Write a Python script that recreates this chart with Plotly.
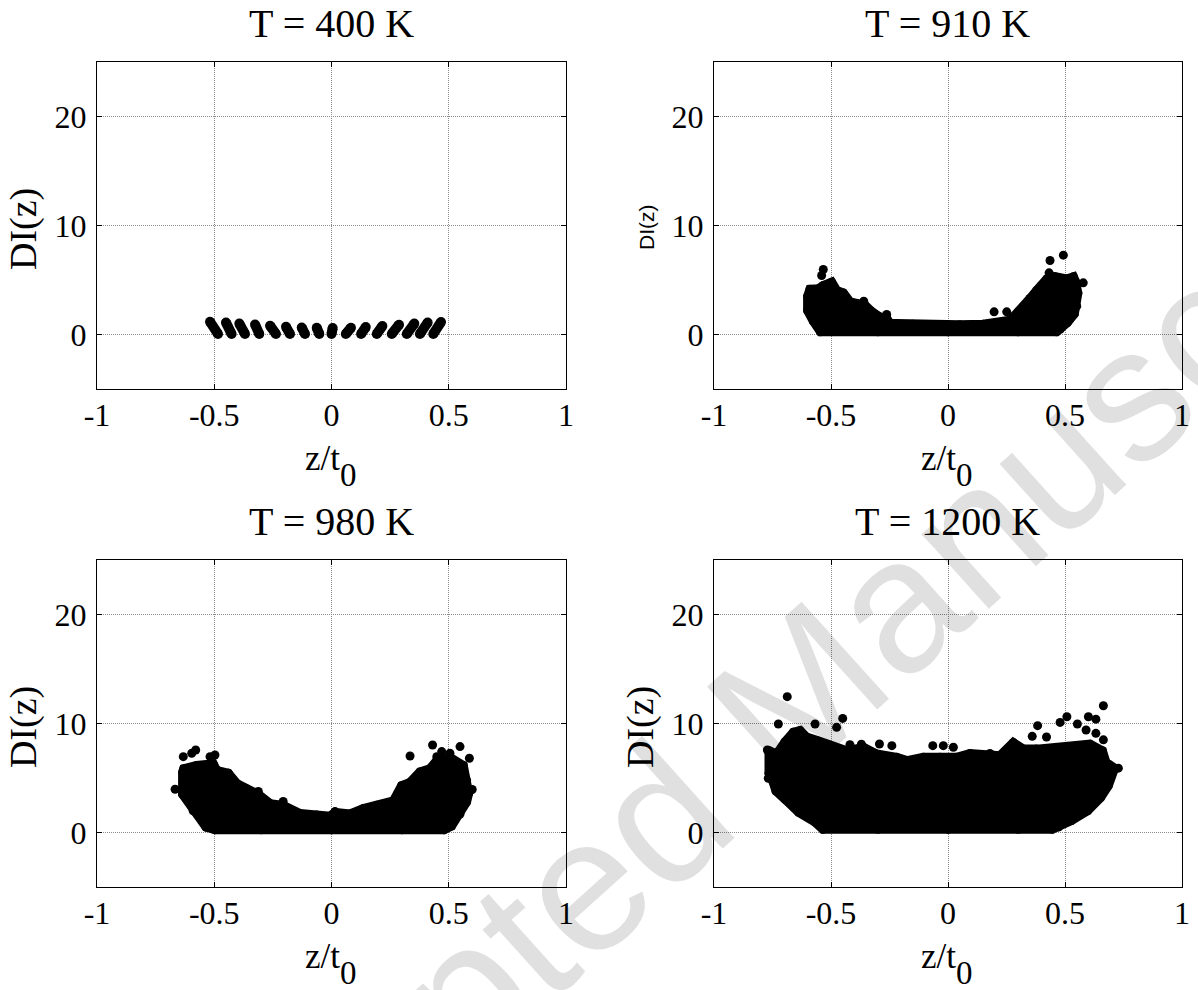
import plotly.graph_objects as go

W, H = 1198, 990

titles = ["T = 400 K", "T = 910 K", "T = 980 K", "T = 1200 K"]
x_tickvals = [-1, -0.5, 0, 0.5, 1]
x_ticktext = ["-1", "-0.5", "0", "0.5", "1"]
y_tickvals = [0, 10, 20]
y_ticktext = ["0", "10", "20"]

# ---- Panel 1 (T = 400 K): 16 atomic layers, each a slanted streak ----
p1_z_bottom = [-0.484, -0.426, -0.369, -0.308, -0.237, -0.177, -0.113, -0.052,
               0.000, 0.061, 0.126, 0.193, 0.257, 0.321, 0.377, 0.434]
p1_z_top = [-0.518, -0.450, -0.393, -0.326, -0.262, -0.194, -0.127, -0.063,
            0.005, 0.083, 0.146, 0.217, 0.288, 0.353, 0.410, 0.467]
p1_di_bottom = [0.05, 0.05, 0.05, 0.05, 0.05, 0.05, 0.05, 0.05,
                0.05, 0.05, 0.05, 0.05, 0.05, 0.05, 0.05, 0.05]
p1_di_top = [1.16, 1.10, 1.00, 0.92, 0.80, 0.70, 0.65, 0.62,
             0.60, 0.62, 0.68, 0.78, 0.90, 1.00, 1.10, 1.15]

# ---- Panel 2 (T = 910 K): outline of the dense cloud + isolated points ----
p2_env_z = [-0.600, -0.600, -0.590, -0.554, -0.533, -0.497, -0.476, -0.447, -0.419,
            -0.390, -0.355, -0.326, -0.291, -0.262, -0.248, -0.219, -0.150, -0.050,
            0.050, 0.150, 0.180, 0.265, 0.300, 0.329, 0.350, 0.379, 0.400, 0.422,
            0.457, 0.507, 0.536, 0.545, 0.555, 0.550, 0.540, 0.510, 0.480, 0.464,
            0.300, 0.000, -0.300, -0.545, -0.575]
p2_env_di = [2.2, 3.5, 4.15, 4.2, 4.5, 4.8, 4.05, 3.8, 3.0,
             2.85, 2.7, 2.1, 1.6, 1.5, 1.0, 1.0, 0.95, 0.9,
             0.9, 0.95, 1.0, 1.3, 2.1, 2.7, 3.3, 4.05, 4.5, 5.1,
             5.3, 5.1, 5.3, 4.85, 3.8, 2.6, 1.9, 1.1, 0.5, 0.25,
             0.25, 0.25, 0.25, 0.25, 1.2]
p2_pts_z = [-0.533, -0.540, -0.360, -0.262, 0.197, 0.251, 0.432, 0.436, 0.493, 0.578]
p2_pts_di = [5.96, 5.41, 3.06, 1.83, 2.08, 2.08, 5.66, 6.79, 7.28, 4.74]

# ---- Panel 3 (T = 980 K) ----
p3_env_z = [-0.535, -0.590, -0.635, -0.635, -0.630, -0.575, -0.504, -0.490, -0.440,
            -0.404, -0.362, -0.312, -0.262, -0.206, -0.134, -0.063, -0.006, 0.015,
            0.079, 0.136, 0.193, 0.264, 0.299, 0.335, 0.377, 0.420, 0.449, 0.505,
            0.562, 0.576, 0.585, 0.576, 0.548, 0.512, 0.480, 0.300, 0.000, -0.300,
            -0.497]
p3_env_di = [0.5, 2.0, 3.5, 5.5, 5.85, 6.15, 6.3, 5.7, 5.44,
             4.5, 4.0, 3.5, 2.65, 2.5, 1.75, 1.6, 1.5, 1.85,
             1.7, 2.2, 2.5, 2.9, 4.3, 4.6, 5.55, 5.85, 6.6, 6.9,
             6.15, 4.8, 3.6, 2.8, 1.7, 0.6, 0.25, 0.25, 0.25, 0.25,
             0.25]
p3_pts_z = [-0.667, -0.632, -0.596, -0.579, -0.518, -0.497, -0.490, -0.440, -0.312,
            -0.206, 0.015, 0.335, 0.431, 0.449, 0.470, 0.505, 0.548, 0.588, 0.600]
p3_pts_di = [3.97, 6.96, 7.27, 7.57, 6.96, 7.11, 5.74, 5.44, 3.76,
             2.84, 1.92, 7.02, 8.03, 6.96, 7.42, 7.27, 7.88, 6.81, 3.95]

# ---- Panel 4 (T = 1200 K) ----
p4_env_z = [-0.765, -0.732, -0.697, -0.661, -0.632, -0.604, -0.561, -0.504, -0.433,
            -0.360, -0.305, -0.219, -0.175, -0.105, -0.034, 0.037, 0.094, 0.179,
            0.222, 0.279, 0.322, 0.379, 0.464, 0.536, 0.607, 0.660, 0.675, 0.712,
            0.685, 0.652, 0.597, 0.528, 0.472, 0.445, 0.300, 0.000, -0.300, -0.535,
            -0.568, -0.638, -0.694, -0.735, -0.748, -0.765]
p4_env_di = [7.5, 7.2, 8.3, 9.2, 9.35, 8.75, 8.45, 8.0, 7.5,
             7.8, 7.2, 6.9, 6.6, 6.9, 6.9, 6.9, 7.25, 7.25,
             7.05, 8.25, 7.65, 7.65, 7.8, 7.8, 8.1, 7.5, 6.45, 5.9,
             4.3, 3.2, 2.0, 1.1, 0.5, 0.3, 0.3, 0.3, 0.3, 0.3,
             0.95, 1.85, 3.0, 3.8, 4.67, 5.44]
p4_pts_z = [-0.772, -0.768, -0.687, -0.725, -0.568, -0.476, -0.450, -0.419, -0.370,
            -0.293, -0.240, -0.065, -0.020, 0.023, 0.360, 0.383, 0.421, 0.479, 0.508,
            0.553, 0.590, 0.600, 0.632, 0.632, 0.664, 0.664, 0.728]
p4_pts_di = [7.57, 4.98, 12.46, 9.95, 9.95, 9.65, 10.47, 8.05, 8.10,
             8.12, 7.97, 7.97, 7.97, 7.82, 8.82, 9.80, 8.76, 10.10, 10.62,
             9.95, 9.40, 10.62, 10.40, 9.10, 11.63, 8.50, 5.90]

SERIF = "Liberation Serif, Times New Roman, serif"
SANS = "Liberation Sans, Arial, sans-serif"
MS = 9  # marker diameter in px

# panel boxes in page pixels (left, right, top, bottom)
boxes = [(97, 566, 62, 389), (714, 1182, 62, 389),
         (97, 566, 560, 887), (714, 1182, 560, 887)]


def px(x):
    return x / W


def py(y):
    return 1 - y / H


fig = go.Figure()

# Panel 1 streaks
sx, sy = [], []
for zb, zt, db, dt in zip(p1_z_bottom, p1_z_top, p1_di_bottom, p1_di_top):
    sx += [zb, zt, None]
    sy += [db, dt, None]
fig.add_trace(go.Scatter(x=sx, y=sy, mode="lines+markers", xaxis="x", yaxis="y",
                         line=dict(color="black", width=10),
                         marker=dict(color="black", size=10, line=dict(width=0)),
                         hoverinfo="skip", showlegend=False))

clouds = [(p2_env_z, p2_env_di, p2_pts_z, p2_pts_di, "x2", "y2"),
          (p3_env_z, p3_env_di, p3_pts_z, p3_pts_di, "x3", "y3"),
          (p4_env_z, p4_env_di, p4_pts_z, p4_pts_di, "x4", "y4")]
for ez, ed, pz, pd, xa, ya in clouds:
    fig.add_trace(go.Scatter(x=ez + [ez[0]], y=ed + [ed[0]], mode="lines+markers",
                             fill="toself", fillcolor="black",
                             line=dict(color="black", width=MS),
                             marker=dict(color="black", size=MS, line=dict(width=0)),
                             xaxis=xa, yaxis=ya, hoverinfo="skip", showlegend=False))
    fig.add_trace(go.Scatter(x=pz, y=pd, mode="markers",
                             marker=dict(color="black", size=MS, line=dict(width=0)),
                             xaxis=xa, yaxis=ya, hoverinfo="skip", showlegend=False))

layout = dict(width=W, height=H, autosize=False, margin=dict(l=0, r=0, t=0, b=0, pad=0),
              paper_bgcolor="white", plot_bgcolor="white", showlegend=False,
              hovermode=False)

for i, (l, r, t, b) in enumerate(boxes):
    n = "" if i == 0 else str(i + 1)
    common = dict(showline=True, linecolor="black", linewidth=1, mirror="ticks",
                  ticks="inside", ticklen=5, tickcolor="black", tickwidth=1,
                  showgrid=True, gridcolor="#8a8a8a", griddash="1px,1px", gridwidth=1,
                  zeroline=False, tickfont=dict(family=SERIF, size=32, color="black"),
                  fixedrange=True, automargin=False)
    layout["xaxis" + n] = dict(common, domain=[px(l), px(r)], range=[-1, 1],
                               anchor="y" + n, tickvals=x_tickvals, ticktext=x_ticktext,
                               ticklabelstandoff=-2)
    layout["yaxis" + n] = dict(common, domain=[py(b), py(t)], range=[-5, 25],
                               anchor="x" + n, tickvals=y_tickvals, ticktext=y_ticktext,
                               ticklabelstandoff=3)

ann = []
for i, (l, r, t, b) in enumerate(boxes):
    cx = (l + r) / 2
    ann.append(dict(text=titles[i], x=px(cx), y=py(t - 39), xref="paper", yref="paper",
                    xanchor="center", yanchor="middle", showarrow=False,
                    font=dict(family=SERIF, size=40, color="black")))
    ann.append(dict(text="z/t<span style='font-size:33px;baseline-shift:-16px'>0</span>",
                    x=px(cx - 1), y=py(b + 77), xref="paper", yref="paper",
                    xanchor="center", yanchor="middle", showarrow=False,
                    font=dict(family=SERIF, size=35, color="black")))
    if i == 1:
        ann.append(dict(text="DI(z)", x=px(646), y=py(227), xref="paper", yref="paper",
                        xanchor="center", yanchor="middle", showarrow=False, textangle=-90,
                        font=dict(family=SANS, size=21, color="black")))
    else:
        ann.append(dict(text="DI(z)", x=px(l - 74), y=py(t + 167), xref="paper",
                        yref="paper", xanchor="center", yanchor="middle", showarrow=False,
                        textangle=-90, font=dict(family=SERIF, size=38, color="black")))

# faint diagonal watermark of the source page
ann.append(dict(text="Accepted Manuscript", x=px(770), y=py(717), xref="paper",
                yref="paper", xanchor="center", yanchor="middle", showarrow=False,
                textangle=-42, font=dict(family=SANS, size=190, color="rgba(0,0,0,0.12)")))

layout["annotations"] = ann
fig.update_layout(**layout)
fig.write_html("out.html",
               config={"displayModeBar": False, "staticPlot": True},
               post_script="document.body.style.margin='0px';"
                           "document.body.style.overflow='hidden';")
